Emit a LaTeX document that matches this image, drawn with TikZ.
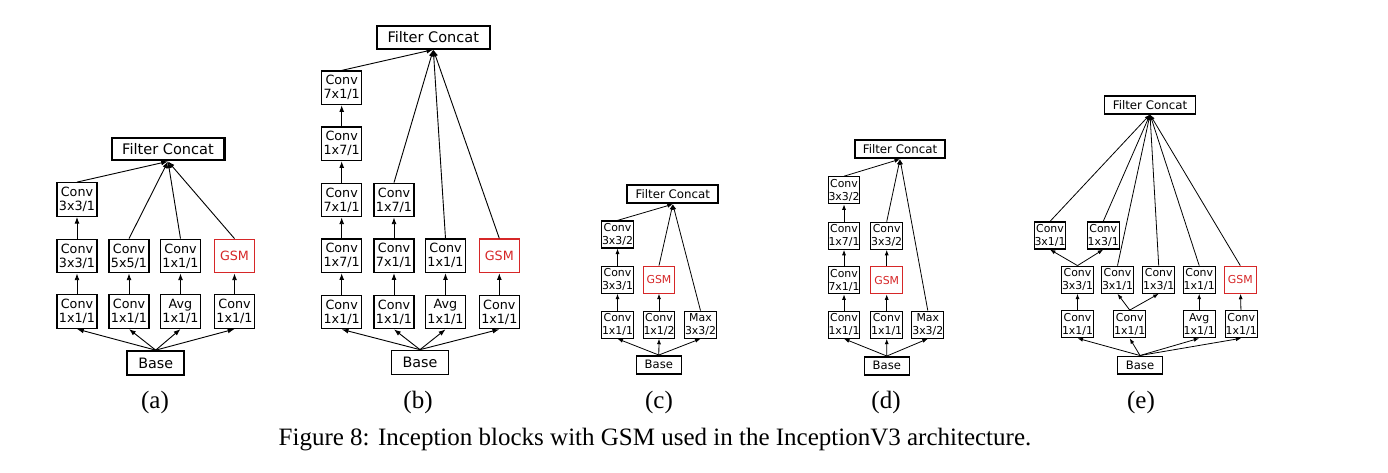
\documentclass[tikz,border=0pt]{standalone}
\usepackage{fontspec}
\setmainfont{Liberation Serif}
\newfontfamily\diafont{DejaVu Sans}
\usetikzlibrary{arrows.meta}

\definecolor{gsmred}{RGB}{214,39,40}

\tikzset{
    blk/.style={rectangle, draw, line width=0.5pt, minimum width=17.6pt, minimum height=14.8pt, inner sep=0pt, align=center, font=\diafont\fontsize{5.6}{6.2}\selectfont},
    sblk/.style={blk, minimum width=14pt, minimum height=11.9pt, font=\diafont\fontsize{4.8}{5.6}\selectfont},
    gsm/.style={text=gsmred, draw=gsmred},
    concat/.style={rectangle, draw, line width=0.9pt, minimum width=49.7pt, minimum height=10pt, inner sep=0pt, font=\diafont\fontsize{6.4}{7}\selectfont},
    sconcat/.style={concat, minimum width=40pt, minimum height=7.9pt, font=\diafont\fontsize{5.2}{6}\selectfont},
    basebox/.style={rectangle, draw, line width=0.7pt, minimum width=25pt, minimum height=10.6pt, inner sep=0pt, font=\diafont\fontsize{6.3}{7}\selectfont},
    sbasebox/.style={basebox, minimum width=19.8pt, minimum height=7.9pt, font=\diafont\fontsize{5.1}{6}\selectfont},
    arr/.style={-{Latex[length=3pt,width=2.2pt]}, line width=0.4pt},
    sarr/.style={-{Latex[length=2.4pt,width=1.8pt]}, line width=0.35pt},
    sublabel/.style={font=\fontsize{11}{13}\selectfont}
}

\begin{document}
\begin{tikzpicture}[x=0.44pt, y=-0.44pt]

    \useasboundingbox (0,0) rectangle (1388,473);

    % Block (a)
    \node[concat] (afc) at (168,149) {Filter Concat};
    \node[blk] (a11) at (77,199.5) {Conv\\3x3/1};
    \node[blk] (a21) at (77,256) {Conv\\3x3/1};
    \node[blk] (a22) at (129,256) {Conv\\5x5/1};
    \node[blk] (a23) at (180.5,256) {Conv\\1x1/1};
    \node[blk, gsm] (a24) at (234.5,256) {GSM};
    \node[blk] (a31) at (77,311.7) {Conv\\1x1/1};
    \node[blk] (a32) at (129,311.7) {Conv\\1x1/1};
    \node[blk] (a33) at (180.5,311.7) {Avg\\1x1/1};
    \node[blk] (a34) at (234.5,311.7) {Conv\\1x1/1};
    \node[basebox] (abase) at (155.7,363) {Base};

    \draw[arr] (abase.north) -- (a31.south);
    \draw[arr] (abase.north) -- (a32.south);
    \draw[arr] (abase.north) -- (a33.south);
    \draw[arr] (abase.north) -- (a34.south);
    \draw[arr] (a31) -- (a21);
    \draw[arr] (a21) -- (a11);
    \draw[arr] (a32) -- (a22);
    \draw[arr] (a33) -- (a23);
    \draw[arr] (a34) -- (a24);
    \draw[arr] (a11.north) -- (afc.south);
    \draw[arr] (a22.north) -- (afc.south);
    \draw[arr] (a23.north) -- (afc.south);
    \draw[arr] (a24.north) -- (afc.south);

    % Block (b)
    \node[concat] (bfc) at (433.3,37.2) {Filter Concat};
    \node[blk] (b11) at (341.7,87.8) {Conv\\7x1/1};
    \node[blk] (b21) at (341.7,143.8) {Conv\\1x7/1};
    \node[blk] (b31) at (341.7,200) {Conv\\7x1/1};
    \node[blk] (b32) at (394,200) {Conv\\1x7/1};
    \node[blk] (b41) at (341.7,255.8) {Conv\\1x7/1};
    \node[blk] (b42) at (394,255.8) {Conv\\7x1/1};
    \node[blk] (b43) at (445.5,255.8) {Conv\\1x1/1};
    \node[blk, gsm] (b44) at (499.3,255.8) {GSM};
    \node[blk] (b51) at (341.7,312) {Conv\\1x1/1};
    \node[blk] (b52) at (394,312) {Conv\\1x1/1};
    \node[blk] (b53) at (445.5,312) {Avg\\1x1/1};
    \node[blk] (b54) at (499.3,312) {Conv\\1x1/1};
    \node[basebox] (bbase) at (420,362.5) {Base};

    \draw[arr] (bbase.north) -- (b51.south);
    \draw[arr] (bbase.north) -- (b52.south);
    \draw[arr] (bbase.north) -- (b53.south);
    \draw[arr] (bbase.north) -- (b54.south);
    \draw[arr] (b51) -- (b41);
    \draw[arr] (b41) -- (b31);
    \draw[arr] (b31) -- (b21);
    \draw[arr] (b21) -- (b11);
    \draw[arr] (b52) -- (b42);
    \draw[arr] (b42) -- (b32);
    \draw[arr] (b53) -- (b43);
    \draw[arr] (b54) -- (b44);
    \draw[arr] (b11.north) -- (bfc.south);
    \draw[arr] (b32.north) -- (bfc.south);
    \draw[arr] (b43.north) -- (bfc.south);
    \draw[arr] (b44.north) -- (bfc.south);

    % Block (c)
    \node[sconcat] (cfc) at (672.8,194.2) {Filter Concat};
    \node[sblk] (c11) at (617.5,234.5) {Conv\\3x3/2};
    \node[sblk] (c21) at (617.5,279.7) {Conv\\3x3/1};
    \node[sblk, gsm] (c22) at (659,279.7) {GSM};
    \node[sblk] (c31) at (617.5,324.7) {Conv\\1x1/1};
    \node[sblk] (c32) at (659,324.7) {Conv\\1x1/2};
    \node[sblk] (c33) at (700.5,324.7) {Max\\3x3/2};
    \node[sbasebox] (cbase) at (658.8,364.8) {Base};

    \draw[sarr] (cbase.north) -- (c31.south);
    \draw[sarr] (cbase.north) -- (c32.south);
    \draw[sarr] (cbase.north) -- (c33.south);
    \draw[sarr] (c31) -- (c21);
    \draw[sarr] (c21) -- (c11);
    \draw[sarr] (c32) -- (c22);
    \draw[sarr] (c11.north) -- (cfc.south);
    \draw[sarr] (c22.north) -- (cfc.south);
    \draw[sarr] (c33.north) -- (cfc.south);

    % Block (d)
    \node[sconcat] (dfc) at (900,149.2) {Filter Concat};
    \node[sblk] (d11) at (844,190.3) {Conv\\3x3/2};
    \node[sblk] (d21) at (844,235.8) {Conv\\1x7/1};
    \node[sblk] (d22) at (886.7,235.8) {Conv\\3x3/2};
    \node[sblk] (d31) at (844,280.3) {Conv\\7x1/1};
    \node[sblk, gsm] (d32) at (886.7,280.3) {GSM};
    \node[sblk] (d41) at (844,324.7) {Conv\\1x1/1};
    \node[sblk] (d42) at (886.7,324.7) {Conv\\1x1/1};
    \node[sblk] (d43) at (927.8,324.7) {Max\\3x3/2};
    \node[sbasebox] (dbase) at (886.8,365.8) {Base};

    \draw[sarr] (dbase.north) -- (d41.south);
    \draw[sarr] (dbase.north) -- (d42.south);
    \draw[sarr] (dbase.north) -- (d43.south);
    \draw[sarr] (d41) -- (d31);
    \draw[sarr] (d31) -- (d21);
    \draw[sarr] (d21) -- (d11);
    \draw[sarr] (d42) -- (d32);
    \draw[sarr] (d32) -- (d22);
    \draw[sarr] (d11.north) -- (dfc.south);
    \draw[sarr] (d22.north) -- (dfc.south);
    \draw[sarr] (d43.north) -- (dfc.south);

    % Block (e)
    \node[sconcat, line width=0.5pt] (efc) at (1150,105) {Filter Concat};
    \node[sblk] (e11) at (1050,235.5) {Conv\\3x1/1};
    \node[sblk] (e12) at (1103.2,235.5) {Conv\\1x3/1};
    \node[sblk] (e21) at (1077.5,279.7) {Conv\\3x3/1};
    \node[sblk] (e22) at (1117.5,279.7) {Conv\\3x1/1};
    \node[sblk] (e23) at (1158.7,279.7) {Conv\\1x3/1};
    \node[sblk] (e24) at (1199.2,279.7) {Conv\\1x1/1};
    \node[sblk, gsm] (e25) at (1240.3,279.7) {GSM};
    \node[sblk] (e31) at (1077.5,324.2) {Conv\\1x1/1};
    \node[sblk] (e32) at (1129.7,324.2) {Conv\\1x1/1};
    \node[sblk] (e33) at (1199.2,324.2) {Avg\\1x1/1};
    \node[sblk] (e34) at (1241.2,324.2) {Conv\\1x1/1};
    \node[sbasebox] (ebase) at (1140,365.3) {Base};

    \draw[sarr] (ebase.north) -- (e31.south);
    \draw[sarr] (ebase.north) -- (e32.south);
    \draw[sarr] (ebase.north) -- (e33.south);
    \draw[sarr] (ebase.north) -- (e34.south);
    \draw[sarr] (e31) -- (e21);
    \draw[sarr] (e21.north) -- (e11.south);
    \draw[sarr] (e21.north) -- (e12.south);
    \draw[sarr] (e32.north) -- (e22.south);
    \draw[sarr] (e32.north) -- (e23.south);
    \draw[sarr] (e33) -- (e24);
    \draw[sarr] (e34) -- (e25);
    \draw[sarr] (e11.north) -- (efc.south);
    \draw[sarr] (e12.north) -- (efc.south);
    \draw[sarr] (e22.north) -- (efc.south);
    \draw[sarr] (e23.north) -- (efc.south);
    \draw[sarr] (e24.north) -- (efc.south);
    \draw[sarr] (e25.north) -- (efc.south);

    % Labels
    \node[sublabel] (la) at (155,402) {(a)};
    \node[sublabel] (lb) at (418,402) {(b)};
    \node[sublabel] (lc) at (659,402) {(c)};
    \node[sublabel] (ld) at (886,402) {(d)};
    \node[sublabel] (le) at (1141,402) {(e)};
    \node[sublabel, anchor=base] (cap) at (655,446) {Figure 8: Inception blocks with GSM used in the InceptionV3 architecture.};

\end{tikzpicture}
\end{document}
